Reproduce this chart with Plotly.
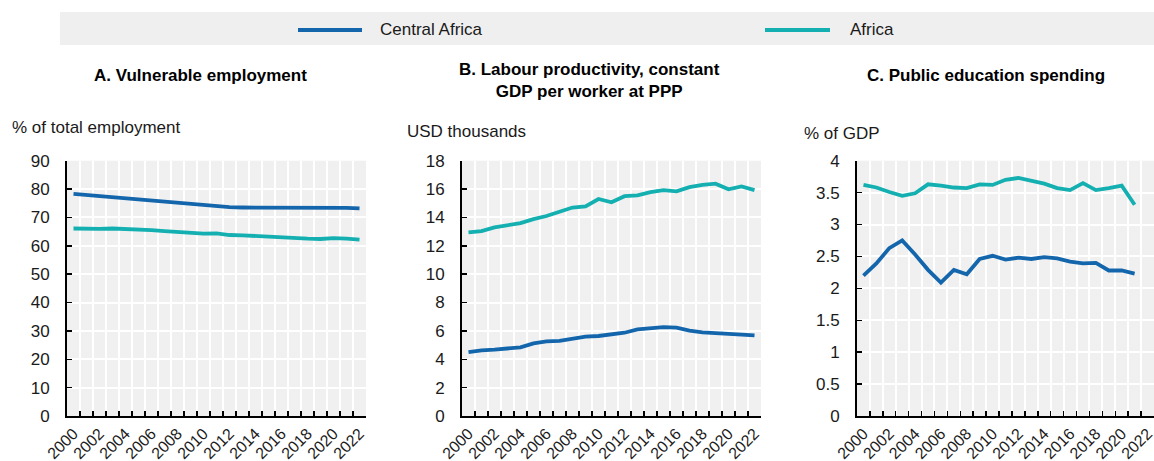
import plotly.graph_objects as go

years = [str(y) for y in range(2000, 2023)]
years_c = [str(y) for y in range(2000, 2022)]
tick_text = [y if int(y) % 2 == 0 else "" for y in years]

# A. Vulnerable employment (% of total employment)
vuln_central = [78.3, 77.9, 77.6, 77.3, 76.9, 76.5, 76.1, 75.8, 75.3, 74.9, 74.5, 74.0,
                73.6, 73.5, 73.5, 73.5, 73.6, 73.5, 73.4, 73.4, 73.6, 73.4, 73.2]
vuln_africa = [66.1, 65.9, 66.0, 66.1, 66.0, 65.8, 65.5, 65.2, 64.9, 64.6, 64.3, 64.4,
               63.8, 63.7, 63.4, 63.1, 62.9, 62.7, 62.5, 62.4, 62.7, 62.5, 62.2]

# B. Labour productivity (USD thousands)
prod_central = [4.51, 4.63, 4.68, 4.75, 4.84, 5.12, 5.26, 5.29, 5.43, 5.59, 5.64, 5.73,
                5.87, 6.10, 6.16, 6.27, 6.23, 6.02, 5.90, 5.85, 5.80, 5.76, 5.69]
prod_africa = [12.95, 13.04, 13.30, 13.46, 13.60, 13.88, 14.10, 14.40, 14.70, 14.78, 15.30, 15.07,
               15.50, 15.55, 15.79, 15.93, 15.84, 16.14, 16.30, 16.38, 15.98, 16.19, 15.93]

# C. Public education spending (% of GDP)
edu_central = [2.20, 2.39, 2.63, 2.75, 2.53, 2.29, 2.09, 2.29, 2.22, 2.46, 2.51, 2.45,
               2.48, 2.46, 2.49, 2.47, 2.42, 2.39, 2.40, 2.28, 2.28, 2.23]
edu_africa = [3.62, 3.58, 3.51, 3.45, 3.49, 3.63, 3.61, 3.58, 3.57, 3.63, 3.62, 3.70,
              3.73, 3.68, 3.64, 3.57, 3.54, 3.65, 3.54, 3.57, 3.61, 3.31]

series_names = ["Central Africa", "Africa"]
titles = ["<b>A. Vulnerable employment</b>",
          "<b>B. Labour productivity, constant</b><br><b>GDP per worker at PPP</b>",
          "<b>C. Public education spending</b>"]
units = ["% of total employment", "USD thousands", "% of GDP"]

BLUE = "#1466AC"
TEAL = "#14AFB0"
W, H = 1154, 461
FONT = "Arial, 'Liberation Sans', sans-serif"

fig = go.Figure()
panels = [
    (years, vuln_central, vuln_africa, "x", "y"),
    (years, prod_central, prod_africa, "x2", "y2"),
    (years_c, edu_central, edu_africa, "x3", "y3"),
]
for xs, c, a, xa, ya in panels:
    fig.add_trace(go.Scatter(x=xs, y=c, mode="lines", name=series_names[0],
                             line=dict(color=BLUE, width=3.8), xaxis=xa, yaxis=ya,
                             showlegend=False))
    fig.add_trace(go.Scatter(x=xs, y=a, mode="lines", name=series_names[1],
                             line=dict(color=TEAL, width=3.8), xaxis=xa, yaxis=ya,
                             showlegend=False))

ydom = [1 - 416 / H, 1 - 160.7 / H]
xdoms = [[67 / W, 366 / W], [462 / W, 761 / W], [857 / W, 1.0]]
yranges = [[0, 90], [0, 18], [0, 4]]
ydticks = [10, 2, 0.5]

common_x = dict(type="category", tickmode="array", tickvals=years, ticktext=tick_text,
                categoryorder="array", categoryarray=years,
                tickson="boundaries", ticks="inside", ticklen=5, tickwidth=1.5,
                tickcolor="black", showline=True, linecolor="black", linewidth=2,
                showgrid=True, gridcolor="white", gridwidth=2, tickangle=-45,
                tickfont=dict(size=16, color="#1a1a1a", family=FONT),
                ticklabelstandoff=0, zeroline=False, automargin=False,
                range=[-0.5, 22.5])
common_y = dict(ticks="inside", ticklen=5, tickwidth=1.5, tickcolor="black",
                showline=True, linecolor="black", linewidth=2, showgrid=True,
                gridcolor="white", gridwidth=2, zeroline=False, automargin=False,
                tickfont=dict(size=17, color="#1a1a1a", family=FONT),
                ticklabelstandoff=12, tick0=0)

layout = dict(width=W, height=H, margin=dict(l=0, r=0, t=0, b=0, autoexpand=False),
              paper_bgcolor="white", plot_bgcolor="#F0F0F0",
              font=dict(family=FONT, size=17, color="#1a1a1a"),
              showlegend=False)
for i in range(3):
    sx = "" if i == 0 else str(i + 1)
    layout["xaxis" + sx] = dict(common_x, domain=xdoms[i], anchor="y" + sx)
    layout["yaxis" + sx] = dict(common_y, domain=ydom, range=yranges[i],
                                dtick=ydticks[i], anchor="x" + sx)
fig.update_layout(**layout)

# Legend box drawn manually
fig.add_shape(type="rect", xref="paper", yref="paper", x0=60 / W, x1=1.0,
              y0=1 - 45 / H, y1=1 - 12 / H, fillcolor="#EFEFEF", line=dict(width=0),
              layer="below")
for (x0, x1, col, tx, name) in [(298, 362, BLUE, 378, series_names[0]),
                                (765, 830, TEAL, 848, series_names[1])]:
    fig.add_shape(type="line", xref="paper", yref="paper", x0=x0 / W, x1=x1 / W,
                  y0=1 - 30 / H, y1=1 - 30 / H, line=dict(color=col, width=4))
    fig.add_annotation(text=name, xref="paper", yref="paper", x=tx / W, y=1 - 30 / H,
                       xanchor="left", yanchor="middle", showarrow=False,
                       font=dict(size=17, color="#1a1a1a"))

# Panel titles
for (cx, cy, t) in [(200, 75, titles[0]), (589, 80, titles[1]), (986, 76, titles[2])]:
    fig.add_annotation(text=t, xref="paper", yref="paper", x=cx / W, y=1 - cy / H,
                       xanchor="center", yanchor="middle", showarrow=False,
                       font=dict(size=17, color="#000000"))

# Unit labels
for (lx, ly, t) in [(10, 128, units[0]), (405, 131, units[1]), (802, 133, units[2])]:
    fig.add_annotation(text=t, xref="paper", yref="paper", x=lx / W, y=1 - ly / H,
                       xanchor="left", yanchor="middle", showarrow=False,
                       font=dict(size=17, color="#1a1a1a"))

fig.write_html("out.html",
               config={"displayModeBar": False, "staticPlot": True},
               post_script="document.body.style.margin='0px';"
                           "document.body.style.overflow='hidden';")
